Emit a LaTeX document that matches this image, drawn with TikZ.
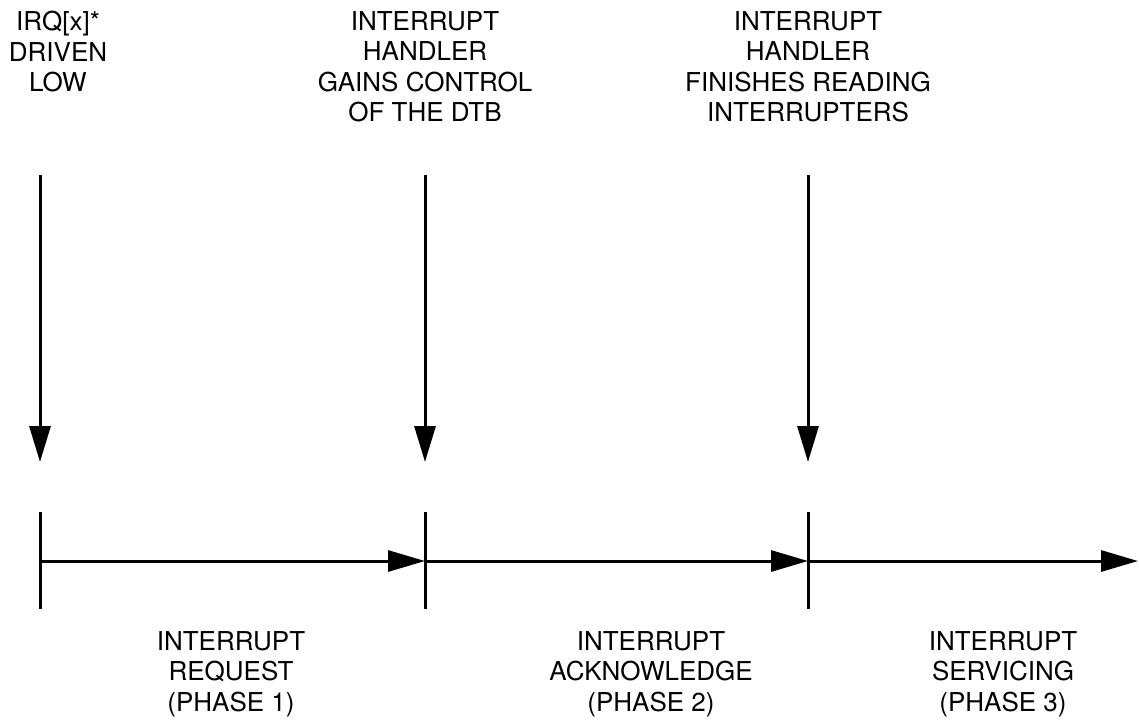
\documentclass[tikz,border=0pt]{standalone}
\usepackage{fontspec}
\setmainfont{TeX Gyre Heros}
\usetikzlibrary{arrows.meta}
\tikzset{
  evtarrow/.style  = {draw, line width=3pt, -{Triangle[length=36pt, width=21pt]}},
  phasearrow/.style= {draw, line width=3pt, -{Triangle[length=37pt, width=21pt]}},
  phasetick/.style = {draw, line width=3pt},
  evtlabel/.style  = {anchor=north, align=center, inner sep=0pt,
                      font=\fontsize{26}{30.5}\selectfont},
}

\begin{document}
\begin{tikzpicture}[x=1pt, y=-1pt]

  \useasboundingbox (0,0) rectangle (1139,721);

  % ── positions along the time line ──
  \def\ta{40}    % IRQ driven low
  \def\tb{425}   % handler gains the DTB
  \def\tc{808}   % handler finishes reading
  \def\lineY{561}

  % ──────────────────────────────────────────────
  %  EVENT LABELS (top)
  % ──────────────────────────────────────────────
  \node[evtlabel] (evA) at (58,  11) {IRQ[x]*\\DRIVEN\\LOW};
  \node[evtlabel] (evB) at (\tb, 11) {INTERRUPT\\HANDLER\\GAINS CONTROL\\OF THE DTB};
  \node[evtlabel] (evC) at (\tc, 11) {INTERRUPT\\HANDLER\\FINISHES READING\\INTERRUPTERS};

  % event arrows
  \coordinate (aTop) at (\ta, 175);  \coordinate (aTip) at (\ta, 462);
  \coordinate (bTop) at (\tb, 175);  \coordinate (bTip) at (\tb, 462);
  \coordinate (cTop) at (\tc, 175);  \coordinate (cTip) at (\tc, 462);
  \draw[evtarrow] (aTop) -- (aTip);
  \draw[evtarrow] (bTop) -- (bTip);
  \draw[evtarrow] (cTop) -- (cTip);

  % ══════════════════════════════════════════════
  %  TIME LINE
  % ══════════════════════════════════════════════
  \coordinate (pA) at (\ta, \lineY);
  \coordinate (pB) at (\tb, \lineY);
  \coordinate (pC) at (\tc, \lineY);
  \coordinate (pEnd) at (1138, \lineY);

  % ticks
  \draw[phasetick] (\ta, 512) -- (\ta, 609);
  \draw[phasetick] (\tb, 512) -- (\tb, 609);
  \draw[phasetick] (\tc, 512) -- (\tc, 609);

  % phase arrows
  \draw[phasearrow] (pA) -- (pB);
  \draw[phasearrow] (pB) -- (pC);
  \draw[phasearrow] (pC) -- (pEnd);

  % ──────────────────────────────────────────────
  %  PHASE LABELS (bottom)
  % ──────────────────────────────────────────────
  \node[evtlabel] (phA) at (231,  631) {INTERRUPT\\REQUEST\\(PHASE 1)};
  \node[evtlabel] (phB) at (651,  631) {INTERRUPT\\ACKNOWLEDGE\\(PHASE 2)};
  \node[evtlabel] (phC) at (1003, 631) {INTERRUPT\\SERVICING\\(PHASE 3)};

\end{tikzpicture}
\end{document}
